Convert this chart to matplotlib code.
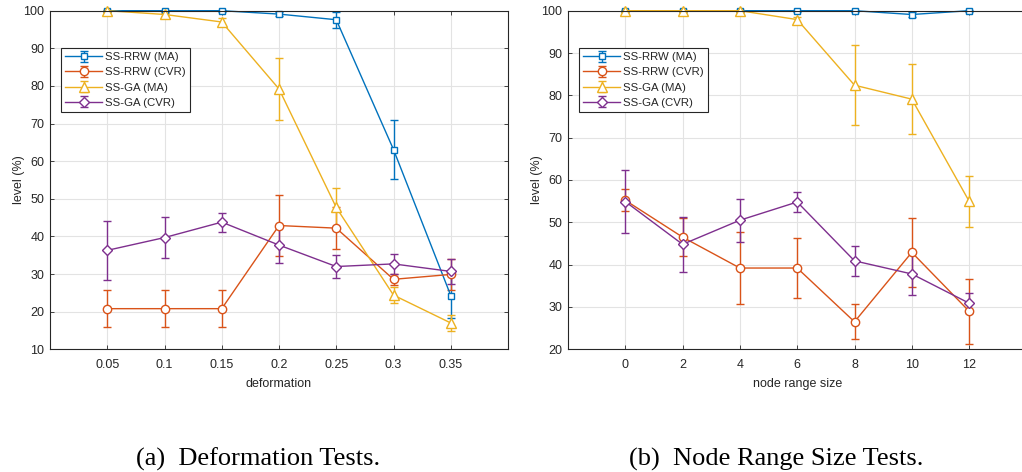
import matplotlib
matplotlib.use('Agg')
import matplotlib.pyplot as plt
import numpy as np

# (a) deformation tests
deform = [0.05, 0.1, 0.15, 0.2, 0.25, 0.3, 0.35]
rrw_ma_a = [100, 100, 100, 99.1, 97.6, 63.1, 24.3]
rrw_ma_a_err = [0.3, 0.3, 0.3, 0.5, 2.1, 7.9, 6.0]
rrw_cvr_a = [20.8, 20.8, 20.8, 42.9, 42.2, 28.6, 29.9]
rrw_cvr_a_err = [5.0, 5.0, 5.0, 8.1, 5.6, 1.5, 4.1]
ga_ma_a = [100, 99.0, 97.0, 79.2, 47.7, 24.4, 17.0]
ga_ma_a_err = [0.3, 0.4, 1.0, 8.2, 5.3, 2.2, 2.2]
ga_cvr_a = [36.3, 39.7, 43.8, 37.7, 32.0, 32.7, 30.7]
ga_cvr_a_err = [7.8, 5.4, 2.5, 4.8, 3.1, 2.6, 3.3]

# (b) node range size tests
node_range = [0, 2, 4, 6, 8, 10, 12]
rrw_ma_b = [100, 100, 100, 100, 100, 99.1, 100]
rrw_ma_b_err = [0.2, 0.2, 0.2, 0.2, 0.2, 0.5, 0.2]
rrw_cvr_b = [55.2, 46.5, 39.2, 39.2, 26.5, 42.9, 29.0]
rrw_cvr_b_err = [2.6, 4.5, 8.5, 7.0, 4.1, 8.1, 7.7]
ga_ma_b = [100, 100, 100, 97.9, 82.4, 79.1, 55.0]
ga_ma_b_err = [0.2, 0.2, 0.2, 0.7, 9.4, 8.2, 6.0]
ga_cvr_b = [54.9, 44.8, 50.5, 54.8, 40.9, 37.8, 30.9]
ga_cvr_b_err = [7.4, 6.5, 5.1, 2.4, 3.6, 4.9, 2.4]

labels = ['SS-RRW (MA)', 'SS-RRW (CVR)', 'SS-GA (MA)', 'SS-GA (CVR)']
colors = ['#0072BD', '#D95319', '#EDB120', '#7E2F8E']
markers = ['s', 'o', '^', 'D']
msizes = [4.5, 6, 6.5, 5]

plt.rcParams['font.family'] = ['Liberation Sans', 'DejaVu Sans']
txt = '#262626'

fig = plt.figure(figsize=(10.22, 4.72), dpi=100)
W, H = 1022.0, 472.0
ax1 = fig.add_axes([50 / W, 1 - 349.3 / H, 458 / W, 338.6 / H])
ax2 = fig.add_axes([568 / W, 1 - 349.3 / H, 458.4 / W, 338.6 / H])


def draw(ax, x, series, errs):
    for i in range(4):
        ax.errorbar(x, series[i], yerr=errs[i], color=colors[i], marker=markers[i],
                    markersize=msizes[i], markerfacecolor='white', markeredgewidth=1.0,
                    linewidth=1.0, elinewidth=1.0, capsize=2.8, capthick=1.0,
                    label=labels[i], clip_on=False, zorder=3)
    ax.grid(True, color='#e3e3e3', linewidth=0.8)
    ax.set_axisbelow(True)
    ax.tick_params(direction='in', top=True, right=True, length=3, width=0.6,
                   colors=txt, labelsize=9)
    ax.tick_params(axis='x', pad=7)
    ax.tick_params(axis='y', pad=4)
    for s in ax.spines.values():
        s.set_color(txt)
        s.set_linewidth(0.8)
        s.set_zorder(4)
    ax.set_ylabel('level (%)', color=txt, fontsize=9, labelpad=-1)
    leg = ax.legend(loc='upper left', bbox_to_anchor=(0.024, 0.89), fontsize=8.2,
                    fancybox=False, edgecolor=txt, framealpha=1,
                    handlelength=3.2, borderpad=0.38, labelspacing=0.45,
                    handletextpad=0.25, borderaxespad=0)
    leg.get_frame().set_linewidth(0.8)
    leg.set_zorder(5)
    for t in leg.get_texts():
        t.set_color(txt)


draw(ax1, deform, [rrw_ma_a, rrw_cvr_a, ga_ma_a, ga_cvr_a],
     [rrw_ma_a_err, rrw_cvr_a_err, ga_ma_a_err, ga_cvr_a_err])
ax1.set_xlim(0, 0.4)
ax1.set_ylim(10, 100)
ax1.set_xticks(deform)
ax1.set_xticklabels(['0.05', '0.1', '0.15', '0.2', '0.25', '0.3', '0.35'])
ax1.set_yticks(np.arange(10, 101, 10))
ax1.set_xlabel('deformation', color=txt, fontsize=9, labelpad=5)

draw(ax2, node_range, [rrw_ma_b, rrw_cvr_b, ga_ma_b, ga_cvr_b],
     [rrw_ma_b_err, rrw_cvr_b_err, ga_ma_b_err, ga_cvr_b_err])
ax2.set_xlim(-2, 14)
ax2.set_ylim(20, 100)
ax2.set_xticks(node_range)
ax2.set_yticks(np.arange(20, 101, 10))
ax2.set_xlabel('node range size', color=txt, fontsize=9, labelpad=5)

fig.text(258 / W, 1 - 459 / H, '(a)  Deformation Tests.', ha='center', va='center',
         fontsize=19, family='Liberation Serif')
fig.text(776 / W, 1 - 459 / H, '(b)  Node Range Size Tests.', ha='center', va='center',
         fontsize=19, family='Liberation Serif')

fig.savefig('out.png', dpi=100)
